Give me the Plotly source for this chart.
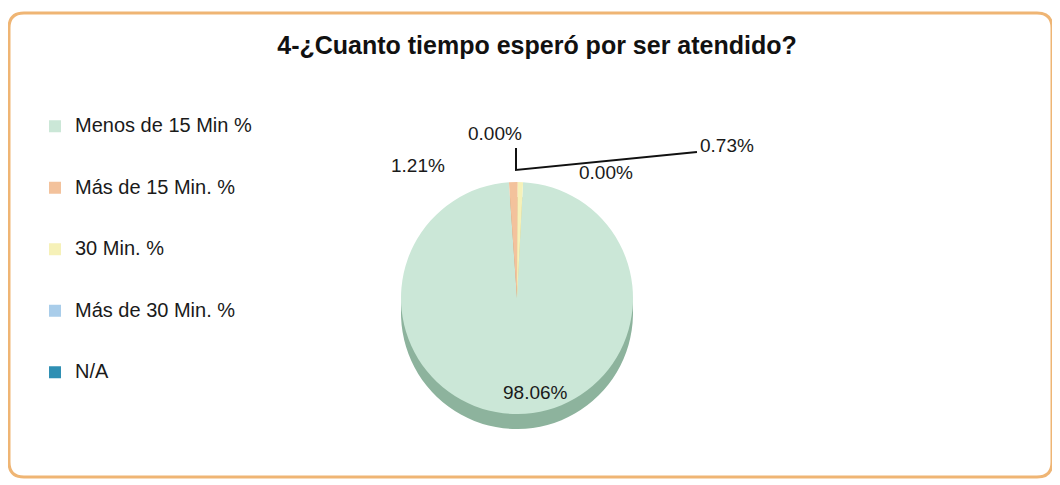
import plotly.graph_objects as go

# data
labels = ["Menos de 15 Min %", "Más de 15 Min. %", "30 Min. %", "Más de 30 Min. %", "N/A"]
values = [98.06, 1.21, 0.73, 0.00, 0.00]
colors = ["#cbe7d7", "#f3c29c", "#f6f1b8", "#a9cdea", "#2f8fb3"]
shadow_colors = ["#8db39d", "#c9946c", "#cfc98a", "#7fa6c6", "#22708e"]
title = "4-¿Cuanto tiempo esperó por ser atendido?"

# page body has an 8px margin, so work in reference pixels and shift
OFF = 8
W, H = 1060 - OFF, 485 - OFF
FONT = "Liberation Sans, Arial, sans-serif"

def px_x(x):
    return (x - OFF) / W

def px_y(y):
    return 1 - (y - OFF) / H

cx, cy, d, depth = 517, 298, 232, 15

fig = go.Figure()

# depth of the 3D pie (darker copy a little lower)
fig.add_trace(go.Pie(
    labels=labels, values=values, sort=False, direction="clockwise", rotation=3,
    marker=dict(colors=shadow_colors, line=dict(width=0)),
    textinfo="none", hoverinfo="skip", showlegend=False,
    domain=dict(x=[px_x(cx - d / 2), px_x(cx + d / 2)],
                y=[px_y(cy + d / 2 + depth), px_y(cy - d / 2 + depth)]),
))

fig.add_trace(go.Pie(
    labels=labels, values=values, sort=False, direction="clockwise", rotation=3,
    marker=dict(colors=colors, line=dict(width=0)),
    textinfo="none",
    domain=dict(x=[px_x(cx - d / 2), px_x(cx + d / 2)],
                y=[px_y(cy + d / 2), px_y(cy - d / 2)]),
))

# data labels
value_labels = [
    (f"{values[0]:.2f}%", 535, 392),
    (f"{values[1]:.2f}%", 418, 165),
    (f"{values[3]:.2f}%", 495, 133),
    (f"{values[4]:.2f}%", 606, 172),
    (f"{values[2]:.2f}%", 727, 146),
]
for txt, x, y in value_labels:
    fig.add_annotation(x=px_x(x), y=px_y(y), xref="paper", yref="paper", text=txt,
                       xanchor="center", yanchor="middle", showarrow=False,
                       font=dict(family=FONT, size=19, color="#1a1a1a"))

# leader lines
fig.add_shape(type="path", xref="paper", yref="paper",
              path=f"M {px_x(516)} {px_y(148)} L {px_x(516)} {px_y(170)} L {px_x(697)} {px_y(152)}",
              line=dict(color="#111111", width=2))

# rounded frame
x0, x1, y0, y1, r = px_x(9), px_x(1052), px_y(13), px_y(477), 15
rx, ry = r / W, r / H
fig.add_shape(type="path", xref="paper", yref="paper",
              path=(f"M {x0+rx} {y0} L {x1-rx} {y0} Q {x1} {y0} {x1} {y0-ry} "
                    f"L {x1} {y1+ry} Q {x1} {y1} {x1-rx} {y1} L {x0+rx} {y1} "
                    f"Q {x0} {y1} {x0} {y1+ry} L {x0} {y0-ry} Q {x0} {y0} {x0+rx} {y0} Z"),
              line=dict(color="#efb574", width=3), layer="below")

fig.update_layout(
    width=W, height=H,
    margin=dict(l=0, r=0, t=0, b=0),
    paper_bgcolor="white",
    title=dict(text=f"<b>{title}</b>", x=px_x(537), xanchor="center", y=px_y(45), yanchor="middle",
               font=dict(family=FONT, size=25, color="#111111")),
    legend=dict(
        x=px_x(35), y=px_y(110), xanchor="left", yanchor="top",
        font=dict(family=FONT, size=15, color="#1a1a1a"),
        valign="top", itemwidth=30, tracegroupgap=0,
    ),
)

# spread legend rows like the original (row height follows the base font size)
legend_labels = [f"<span style='font-size:20px'>{l}</span><br> <br> " for l in labels]
fig.data[0].labels = legend_labels
fig.data[1].labels = legend_labels

fig.write_html("out.html")
